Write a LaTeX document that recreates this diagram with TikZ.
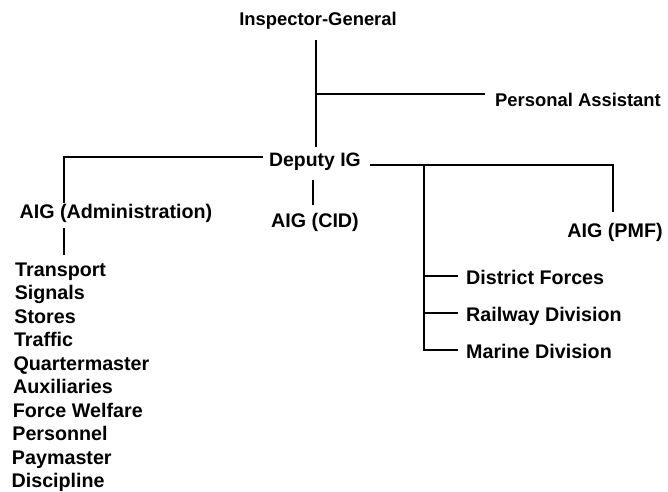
\documentclass[tikz,border=0pt]{standalone}
\usepackage{fontspec}
\setmainfont{Liberation Sans}
\newcommand{\fsz}[1]{\fontsize{#1}{#1}\selectfont\bfseries}
\begin{document}
\begin{tikzpicture}[x=1pt,y=-1pt,
  lbl/.style={inner sep=0pt, anchor=base, font=\fsz{19.7}},
  item/.style={lbl, anchor=base west},
  conn/.style={line width=2.3pt, line cap=butt, line join=miter}]
\useasboundingbox (0,0) rectangle (668,491);
% nodes
\node[lbl, font=\fsz{18.4}] (ig) at (318,25) {Inspector-General};
\node[item, font=\fsz{18.4}] (pa) at (495,106) {Personal Assistant};
\node[lbl, font=\fsz{19.4}] (dep) at (315,166) {Deputy IG};
\node[lbl] (admin) at (116,218) {AIG (Administration)};
\node[lbl] (cid) at (315,227) {AIG (CID)};
\node[lbl] (pmf) at (615,237) {AIG (PMF)};
\node[item] (df) at (466,284) {District Forces};
\node[item] (rd) at (466,321) {Railway Division};
\node[item] (md) at (466,358) {Marine Division};
\foreach \t [count=\i from 0] in {Transport,Signals,Stores,Traffic,Quartermaster,Auxiliaries,Force Welfare,Personnel,Paymaster,Discipline}
  \node[item] (L\i) at ({15-0.4*\i},{276+23.5*\i}) {\t};
% junction coordinates
\coordinate (igb) at (316,40);
\coordinate (dept) at (316,147);
\coordinate (paj) at (316,94);
\coordinate (dl) at (263,157);
\coordinate (dlc) at (64,157);
\coordinate (admt) at (64,203);
\coordinate (admb) at (64,228);
\coordinate (lstt) at (64,255);
\coordinate (cidt) at (313,180);
\coordinate (cidb) at (313,205);
\coordinate (dr) at (370,165);
\coordinate (drc) at (613,165);
\coordinate (pmft) at (613,212);
\coordinate (br) at (424,165);
\coordinate (dfj) at (424,276);
\coordinate (rdj) at (424,313);
\coordinate (mdj) at (424,350);
% connectors
\draw[conn] (igb) -- (dept);
\draw[conn, shorten >=10pt] (paj) -- (paj -| pa.west);
\draw[conn] (dl) -- (dlc) -- (admt);
\draw[conn] (admb) -- (lstt);
\draw[conn] (cidt) -- (cidb);
\draw[conn] (dr) -- (drc) -- (pmft);
\draw[conn, shorten >=8pt] (br) -- (mdj) -- (mdj -| md.west);
\draw[conn, shorten >=8pt] (dfj) -- (dfj -| df.west);
\draw[conn, shorten >=8pt] (rdj) -- (rdj -| rd.west);
\end{tikzpicture}
\end{document}
